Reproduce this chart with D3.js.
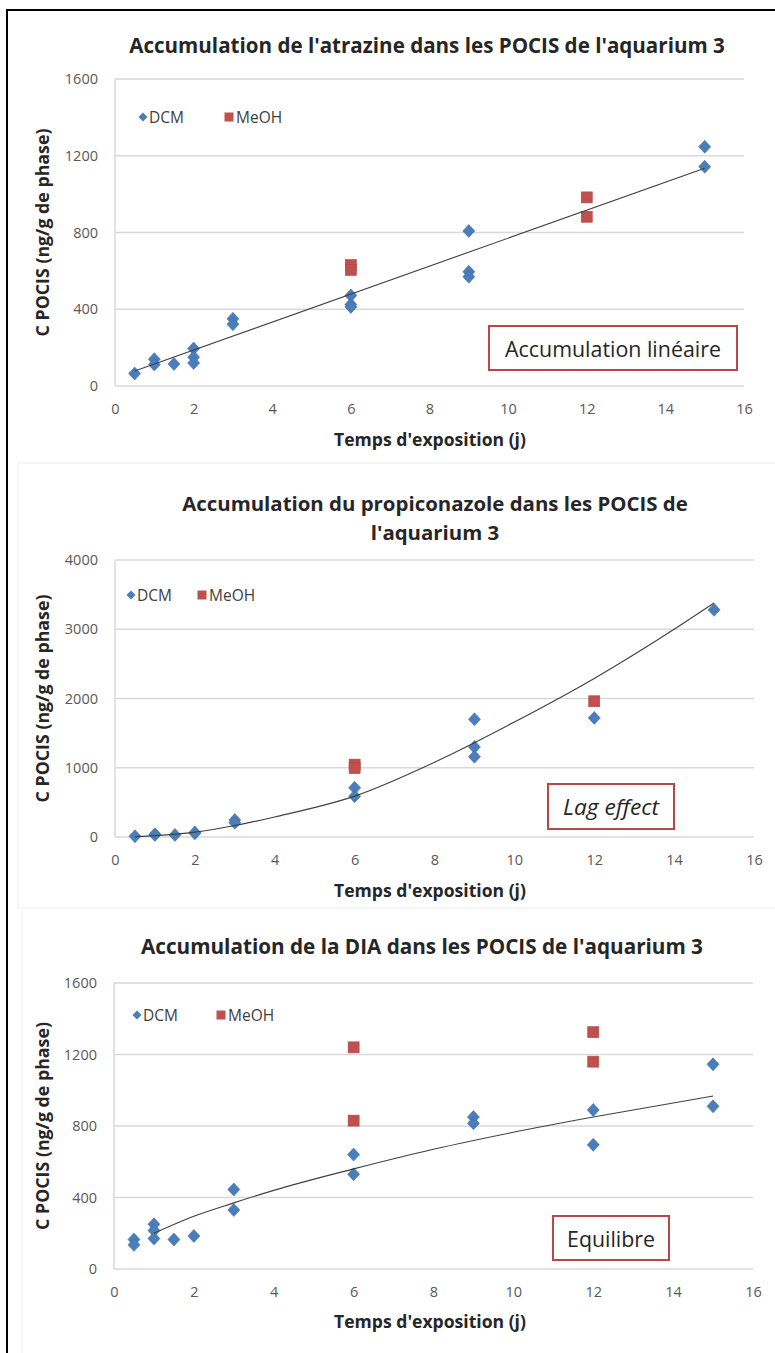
<!DOCTYPE html>
<html>
<head>
<meta charset="utf-8">
<script src="https://cdn.jsdelivr.net/npm/d3@7"></script>
<style>
  body { margin: 0; background: #fff; }
  text { font-family: "Open Sans", sans-serif; }
</style>
</head>
<body>
<div id="chart"></div>
<script>
// Accumulation dans les POCIS - aquarium 3

// x axis ticks (jours), shared
const xTicks = [0, 2, 4, 6, 8, 10, 12, 14, 16];

// y axis ticks
const yTicksAtrazine = [0, 400, 800, 1200, 1600];
const yTicksPropi = [0, 1000, 2000, 3000, 4000];
const yTicksDia = [0, 400, 800, 1200, 1600];

// atrazine - [jour, ng/g]
const atrazineDCM = [
  [0.5, 65], [1, 140], [1, 112], [1.5, 115], [2, 195], [2, 150], [2, 120],
  [3, 350], [3, 322], [6, 472], [6, 425], [6, 412], [9, 808], [9, 595], [9, 570],
  [15, 1247], [15, 1143]
];
const atrazineMeOH = [[6, 630], [6, 605], [12, 983], [12, 882]];
const atrazineTrend = [[0.5, 78], [15, 1135]];

// propiconazole
const propiDCM = [
  [0.5, 10], [1, 40], [1, 30], [1.5, 30], [2, 55], [2, 65],
  [3, 245], [3, 205], [6, 710], [6, 590], [9, 1700], [9, 1300], [9, 1160],
  [12, 1720], [15, 3280]
];
const propiMeOH = [[6, 1045], [6, 995], [12, 1960]];
const propiTrend = [
  [0.5, 5], [1, 20], [2, 70], [3, 165], [4, 290], [6, 590], [8, 1080],
  [10, 1660], [12, 2290], [14, 3000], [15, 3380]
];

// DIA
const diaDCM = [
  [0.5, 165], [0.5, 135], [1, 250], [1, 215], [1, 170], [1.5, 165], [2, 185],
  [3, 445], [3, 330], [6, 640], [6, 530], [9, 850], [9, 815],
  [12, 890], [12, 695], [15, 1145], [15, 910]
];
const diaMeOH = [[6, 1240], [6, 830], [12, 1325], [12, 1160]];
const diaTrend = [
  [1, 200], [2, 295], [3, 370], [4, 440], [6, 560], [8, 670],
  [10, 765], [12, 850], [15, 968]
];

const width = 775, height = 1353;

let svg = d3.select("#chart")
  .append("svg")
    .attr("width", width)
    .attr("height", height);

svg.append("rect")
  .attr("width", width).attr("height", height)
  .attr("fill", "#fff");

// faint excel chart borders
svg.append("rect")
  .attr("x", 18).attr("y", 463).attr("width", 780).attr("height", 445)
  .attr("fill", "none").attr("stroke", "#eeeeee");
svg.append("line")
  .attr("x1", 22).attr("x2", 22).attr("y1", 912).attr("y2", height)
  .attr("stroke", "#eeeeee");

// outer frame
svg.append("rect")
  .attr("x", 7).attr("y", 10).attr("width", 900).attr("height", 1500)
  .attr("fill", "none").attr("stroke", "#000").attr("stroke-width", 2);

function fitText(t, w) {
  const cur = t.node().getComputedTextLength();
  const fs = parseFloat(t.style("font-size"));
  t.style("font-size", (fs * w / cur) + "px");
}

const panels = [
  {
    dcm: atrazineDCM, meoh: atrazineMeOH, trend: atrazineTrend, yTicks: yTicksAtrazine,
    x0: 115, x1: 744, yTop: 79, yBot: 386,
    title: ["Accumulation de l'atrazine dans les POCIS de l'aquarium 3"],
    titleY: [53], titleW: 596, titleX: 427, xTitleY: 446,
    legend: {d: 143, s: 229, y: 117},
    box: {x: 489, y: 326, w: 248, h: 44, text: "Accumulation linéaire", tw: 216, italic: false}
  },
  {
    dcm: propiDCM, meoh: propiMeOH, trend: propiTrend, yTicks: yTicksPropi,
    x0: 115, x1: 754, yTop: 560, yBot: 837,
    title: ["Accumulation du propiconazole dans les POCIS de", "l'aquarium 3"],
    titleY: [511, 540], titleW: 506, titleX: 435, xTitleY: 897,
    legend: {d: 131, s: 202, y: 595},
    box: {x: 548, y: 784, w: 126, h: 45, text: "Lag effect", tw: 96, italic: true}
  },
  {
    dcm: diaDCM, meoh: diaMeOH, trend: diaTrend, yTicks: yTicksDia,
    x0: 114, x1: 753, yTop: 983, yBot: 1269,
    title: ["Accumulation de la DIA dans les POCIS de l'aquarium 3"],
    titleY: [954], titleW: 562, titleX: 422, xTitleY: 1328,
    legend: {d: 137, s: 221, y: 1015},
    box: {x: 553, y: 1216, w: 116, h: 44, text: "Equilibre", tw: 88, italic: false}
  }
];

const diamond = "M0,-6.5L6,0L0,6.5L-6,0Z";
const diamondSmall = "M0,-4.5L4.5,0L0,4.5L-4.5,0Z";
const blue = "#4a7ebb", red = "#c0504d";

panels.forEach(function(p) {
  let g = svg.append("g");

  let x = d3.scaleLinear().domain([0, 16]).range([p.x0, p.x1]);
  let y = d3.scaleLinear().domain([0, d3.max(p.yTicks)]).range([p.yBot, p.yTop]);

  // gridlines
  g.selectAll(".grid")
    .data(p.yTicks)
    .enter().append("line")
      .attr("x1", p.x0).attr("x2", p.x1)
      .attr("y1", function(d) { return y(d); })
      .attr("y2", function(d) { return y(d); })
      .attr("stroke", "#d9d9d9")
      .attr("stroke-width", 1.5);

  // y axis line
  g.append("line")
    .attr("x1", p.x0).attr("x2", p.x0)
    .attr("y1", p.yTop).attr("y2", p.yBot)
    .attr("stroke", "#d9d9d9").attr("stroke-width", 1.5);

  // y tick labels
  let yAxis = g.append("g")
    .attr("transform", `translate(${p.x0}, 0)`)
    .call(d3.axisLeft(y).tickValues(p.yTicks).tickFormat(d3.format("d")).tickSize(0).tickPadding(17));
  yAxis.select(".domain").remove();
  yAxis.selectAll("text")
    .attr("fill", "#595959")
    .style("font-family", "Open Sans")
    .style("font-size", "14.5px");

  // x tick labels
  let xAxis = g.append("g")
    .attr("transform", `translate(0, ${p.yBot})`)
    .call(d3.axisBottom(x).tickValues(xTicks).tickFormat(d3.format("d")).tickSize(0).tickPadding(18));
  xAxis.select(".domain").remove();
  xAxis.selectAll("text")
    .attr("fill", "#595959")
    .style("font-family", "Open Sans")
    .style("font-size", "14.5px");

  // title
  let t0 = null;
  p.title.forEach(function(line, i) {
    let t = g.append("text")
      .attr("x", p.titleX).attr("y", p.titleY[i])
      .attr("text-anchor", "middle")
      .attr("font-weight", "bold")
      .attr("fill", "#262626")
      .style("font-size", "18px")
      .text(line);
    if (i == 0) { fitText(t, p.titleW); t0 = t; }
    else { t.style("font-size", t0.style("font-size")); }
  });

  // axis titles
  let xt = g.append("text")
    .attr("x", 430).attr("y", p.xTitleY)
    .attr("text-anchor", "middle")
    .attr("font-weight", "bold")
    .attr("fill", "#262626")
    .style("font-size", "15px")
    .text("Temps d'exposition (j)");
  fitText(xt, 192);

  let yt = g.append("text")
    .attr("transform", `translate(42, ${(p.yTop + p.yBot) / 2}) rotate(-90)`)
    .attr("text-anchor", "middle")
    .attr("dominant-baseline", "central")
    .attr("font-weight", "bold")
    .attr("fill", "#262626")
    .style("font-size", "15px")
    .text("C POCIS (ng/g de phase)");
  fitText(yt, 208);

  // trend line
  let line = d3.line()
    .x(function(d) { return x(d[0]); })
    .y(function(d) { return y(d[1]); })
    .curve(d3.curveMonotoneX);

  // markers
  g.selectAll(".dcm")
    .data(p.dcm)
    .enter().append("path")
      .attr("d", diamond)
      .attr("transform", function(d) { return `translate(${x(d[0])}, ${y(d[1])})`; })
      .attr("fill", blue)
      .attr("stroke", "#3f6fa8")
      .attr("stroke-width", 0.6);

  g.selectAll(".meoh")
    .data(p.meoh)
    .enter().append("rect")
      .attr("x", function(d) { return x(d[0]) - 5.5; })
      .attr("y", function(d) { return y(d[1]) - 5.5; })
      .attr("width", 11).attr("height", 11)
      .attr("fill", red)
      .attr("stroke", "#b04542")
      .attr("stroke-width", 0.6);

  g.append("path")
    .datum(p.trend)
    .attr("d", line)
    .attr("fill", "none")
    .attr("stroke", "#404040")
    .attr("stroke-width", 1.1);

  // legend
  let lg = g.append("g");
  lg.append("path")
    .attr("d", diamondSmall)
    .attr("transform", `translate(${p.legend.d}, ${p.legend.y})`)
    .attr("fill", blue);
  lg.append("text")
    .attr("x", p.legend.d + 6).attr("y", p.legend.y)
    .attr("dominant-baseline", "central")
    .attr("fill", "#404040")
    .style("font-size", "15.5px")
    .text("DCM");
  lg.append("rect")
    .attr("x", p.legend.s - 4.5).attr("y", p.legend.y - 4.5)
    .attr("width", 9).attr("height", 9)
    .attr("fill", red);
  lg.append("text")
    .attr("x", p.legend.s + 7).attr("y", p.legend.y)
    .attr("dominant-baseline", "central")
    .attr("fill", "#404040")
    .style("font-size", "15.5px")
    .text("MeOH");

  // annotation box
  let b = p.box;
  g.append("rect")
    .attr("x", b.x).attr("y", b.y).attr("width", b.w).attr("height", b.h)
    .attr("fill", "#fff")
    .attr("stroke", "#b8474a")
    .attr("stroke-width", 2);
  let bt = g.append("text")
    .attr("x", b.x + b.w / 2).attr("y", b.y + b.h / 2)
    .attr("text-anchor", "middle")
    .attr("dominant-baseline", "central")
    .attr("fill", "#262626")
    .style("font-style", b.italic ? "italic" : "normal")
    .style("font-size", "18px")
    .text(b.text);
  fitText(bt, b.tw);
});
</script>
</body>
</html>
